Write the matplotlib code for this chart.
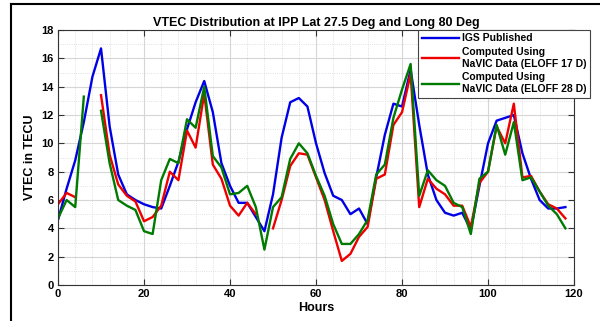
import numpy as np
import matplotlib
matplotlib.use("Agg")
import matplotlib.pyplot as plt
from matplotlib.lines import Line2D
from matplotlib.ticker import MultipleLocator

nan = np.nan

# Data (every 2 hours)
hours = list(range(0, 120, 2))

igs = [4.6, 6.8, 8.8, 11.5, 14.7, 16.7, 11.2, 7.8, 6.4, 6.0,
       5.7, 5.5, 5.4, 7.0, 8.7, 11.0, 12.9, 14.4, 12.2, 8.6,
       7.0, 5.8, 5.8, 4.8, 3.8, 6.4, 10.4, 12.9, 13.2, 12.6,
       10.0, 7.9, 6.3, 6.0, 5.0, 5.4, 4.3, 7.6, 10.6, 12.8,
       12.6, 15.2, 11.3, 7.8, 6.0, 5.1, 4.9, 5.1, 3.9, 7.0,
       10.0, 11.6, 11.8, 12.0, 9.3, 7.5, 6.0, 5.4, 5.4, 5.5]

eloff17 = [5.7, 6.5, 6.2, nan, nan, 13.4, 9.2, 7.1, 6.3, 5.9,
           4.5, 4.8, 5.6, 8.0, 7.4, 10.9, 9.7, 13.5, 8.5, 7.5,
           5.6, 4.9, 5.8, 5.0, nan, 4.0, 6.0, 8.4, 9.3, 9.2,
           7.6, 6.0, 3.8, 1.7, 2.2, 3.4, 4.1, 7.5, 7.8, 11.3,
           12.2, 14.9, 5.5, 7.5, 6.8, 6.4, 5.6, 5.6, 4.1, 7.2,
           8.0, 11.2, 10.0, 12.8, 7.6, 7.7, 6.6, 5.7, 5.4, 4.7]

eloff28 = [4.7, 6.0, 5.5, 13.3, nan, 12.3, 8.6, 6.0, 5.6, 5.3,
           3.8, 3.6, 7.4, 8.9, 8.6, 11.7, 11.1, 14.0, 9.1, 8.3,
           6.4, 6.5, 7.0, 5.5, 2.5, 5.5, 6.2, 8.9, 10.0, 9.3,
           7.7, 6.3, 4.3, 2.9, 2.9, 3.6, 4.6, 7.8, 8.5, 11.8,
           13.8, 15.6, 6.3, 8.1, 7.4, 7.0, 5.8, 5.5, 3.6, 7.5,
           8.0, 11.3, 9.2, 11.5, 7.4, 7.6, 6.6, 5.6, 5.0, 4.0]

labels = ["IGS Published",
          "Computed Using\nNaVIC Data (ELOFF 17 D)",
          "Computed Using\nNaVIC Data (ELOFF 28 D)"]

plt.rcParams['font.family'] = ['Liberation Sans', 'DejaVu Sans']
plt.rcParams['font.weight'] = 'bold'

fig = plt.figure(figsize=(6.0, 3.21), dpi=100)
ax = fig.add_axes([0.0967, 0.1121, 0.86, 0.7944])

ax.plot(hours, igs, color='#0000e6', lw=1.7, label=labels[0])
ax.plot(hours, eloff17, color='#ee0000', lw=1.7, label=labels[1])
ax.plot(hours, eloff28, color='#007a00', lw=1.7, label=labels[2])

ax.set_xlim(0, 120)
ax.set_ylim(0, 18)
ax.xaxis.set_major_locator(MultipleLocator(20))
ax.yaxis.set_major_locator(MultipleLocator(2))
ax.xaxis.set_minor_locator(MultipleLocator(4))
ax.yaxis.set_minor_locator(MultipleLocator(1))
ax.grid(True, which='major', color='#d6d6d6', lw=0.8)
ax.grid(True, which='minor', color='#d6d6d6', lw=0.6, ls=':')
ax.set_axisbelow(True)
ax.tick_params(which='major', direction='in', top=True, right=True,
               length=4, labelsize=8, color='#333333', pad=3)
ax.tick_params(which='minor', length=0)
for s in ax.spines.values():
    s.set_color('#333333')
    s.set_linewidth(0.8)

ax.set_title("VTEC Distribution at IPP Lat 27.5 Deg and Long 80 Deg",
             fontsize=9, fontweight='bold', pad=3)
ax.set_xlabel("Hours", fontsize=9, fontweight='bold', labelpad=2)
ax.set_ylabel("VTEC in TECU", fontsize=9, fontweight='bold', labelpad=4)

leg = ax.legend(loc='upper right', bbox_to_anchor=(0.983, 0.907),
                bbox_transform=fig.transFigure, fontsize=7.5,
                handlelength=3.5, handletextpad=0.3, labelspacing=0.35,
                borderpad=0.35, borderaxespad=0, fancybox=False,
                framealpha=1)
leg.get_frame().set_edgecolor('#444444')
leg.get_frame().set_linewidth(0.8)

# outer frame of the figure
fig.add_artist(Line2D([11 / 600, 11 / 600], [0, 1 - 4 / 321],
                      transform=fig.transFigure, color='black', lw=1.5))
fig.add_artist(Line2D([11 / 600, 1], [1 - 4 / 321, 1 - 4 / 321],
                      transform=fig.transFigure, color='black', lw=1.5))

fig.savefig("out.png", dpi=100)
